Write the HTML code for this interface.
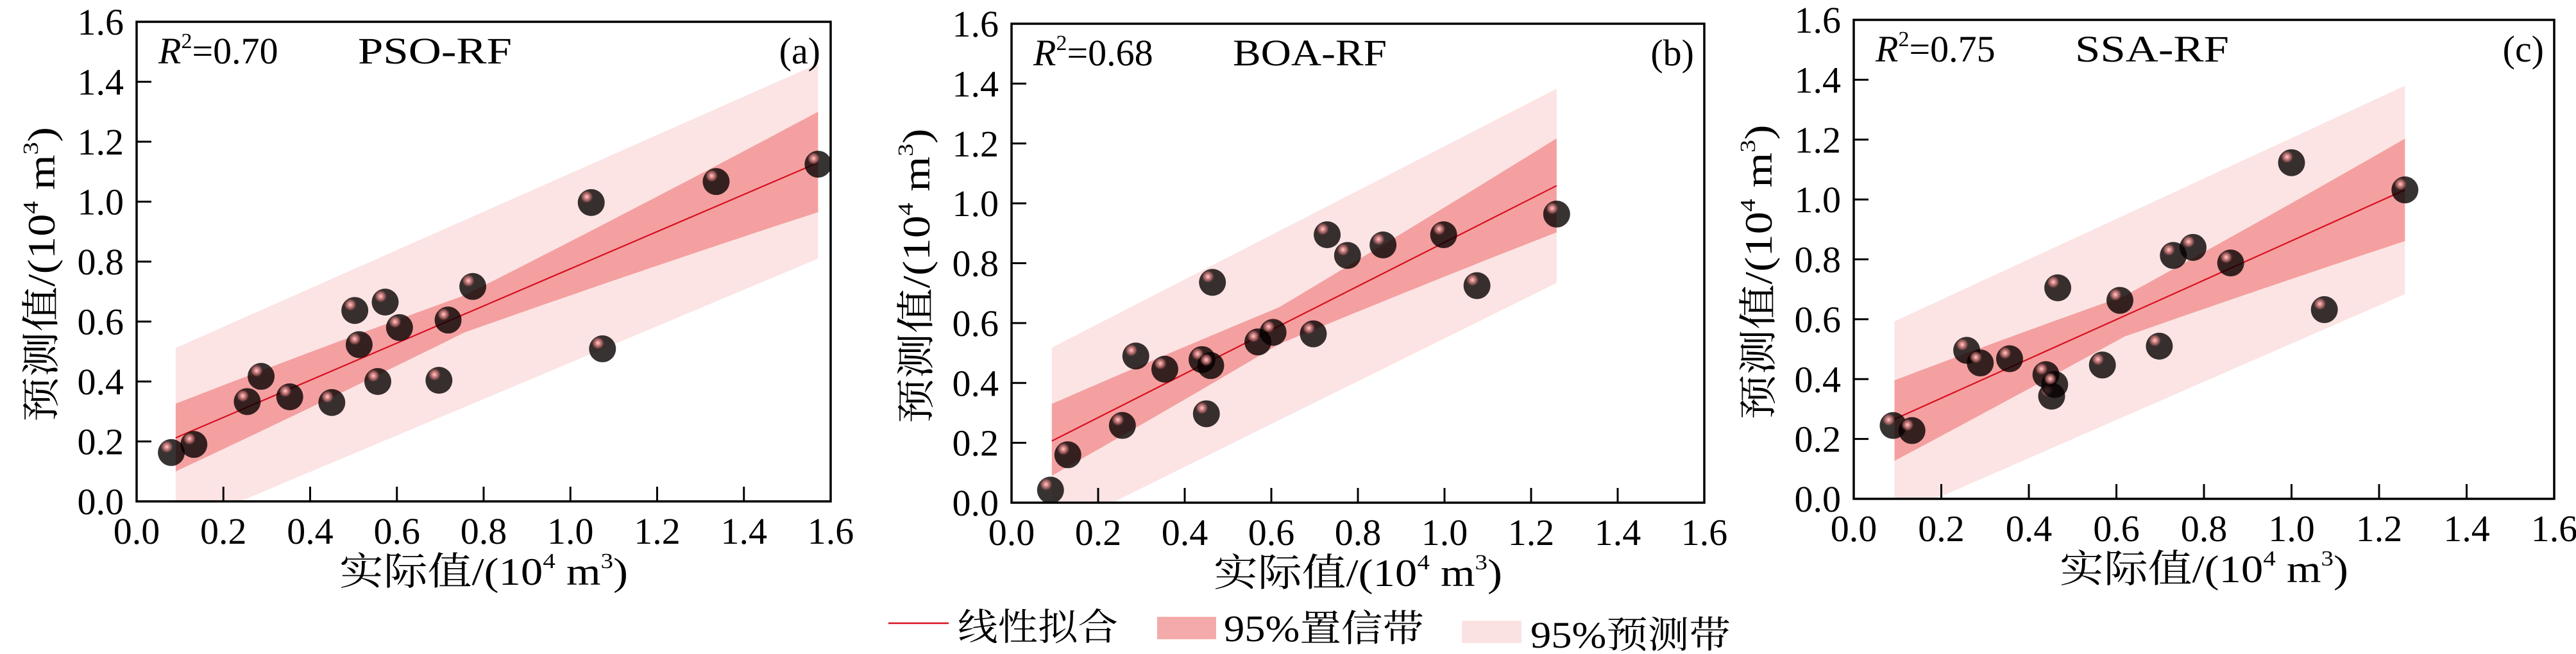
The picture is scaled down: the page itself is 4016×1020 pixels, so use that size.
<!DOCTYPE html>
<html><head><meta charset="utf-8"><style>
html,body{margin:0;padding:0;background:#fff;}
svg{display:block;}
text{font-family:"Liberation Serif","Noto Serif CJK SC","Noto Sans CJK SC",serif;fill:#000;}
</style></head><body>
<svg id="s" width="4016" height="1020" viewBox="0 0 4016 1020" xmlns="http://www.w3.org/2000/svg">
<defs>
<radialGradient id="hl" cx="0.5" cy="0.5" r="0.5">
<stop offset="0" stop-color="#ffd0d0" stop-opacity="1"/>
<stop offset="0.35" stop-color="#e89090" stop-opacity="0.9"/>
<stop offset="0.7" stop-color="#c07070" stop-opacity="0.6"/>
<stop offset="1" stop-color="#804040" stop-opacity="0"/>
</radialGradient>
</defs>
<g id="g"></g>
<line x1="1385" y1="972" x2="1479" y2="972" stroke="#d81020" stroke-width="2.5"/>
<text x="1493" y="998" font-size="58" textLength="250" lengthAdjust="spacingAndGlyphs">线性拟合</text>
<rect x="1804" y="962" width="92" height="35" fill="#f4aaaa"/>
<text x="1908" y="1000" font-size="58" textLength="312" lengthAdjust="spacingAndGlyphs">95%置信带</text>
<rect x="2279" y="968" width="93" height="35" fill="#fbe2e2"/>
<text x="2386" y="1010" font-size="58" textLength="312" lengthAdjust="spacingAndGlyphs">95%预测带</text>
</svg>
<script>
var NS="http://www.w3.org/2000/svg",G=document.getElementById('g');
function el(t,a,p){var e=document.createElementNS(NS,t);for(var k in a)e.setAttribute(k,a[k]);(p||G).appendChild(e);return e;}
var P=[
{L:213,R:1295,T:34,B:782,r2:"0.70",name:"PSO-RF",tag:"(a)",
 line:[0.09,0.212,1.571,1.13],conf:[0.326,0.10,1.30,0.965],pred:[0.512,-0.09,1.46,0.81],
 pts:[[0.08,0.163],[0.132,0.19],[0.255,0.333],[0.287,0.417],[0.353,0.349],[0.45,0.33],[0.503,0.637],[0.513,0.523],[0.556,0.40],[0.573,0.665],[0.606,0.58],[0.697,0.404],[0.718,0.605],[0.775,0.717],[1.048,0.997],[1.074,0.509],[1.336,1.067],[1.571,1.125]]},
{L:1577,R:2657,T:37,B:784,r2:"0.68",name:"BOA-RF",tag:"(b)",
 line:[0.093,0.206,1.259,1.059],conf:[0.33,0.09,1.217,0.903],pred:[0.518,-0.10,1.383,0.734],
 pts:[[0.09,0.042],[0.13,0.16],[0.256,0.258],[0.287,0.49],[0.354,0.446],[0.44,0.478],[0.46,0.458],[0.45,0.297],[0.464,0.736],[0.569,0.537],[0.604,0.569],[0.697,0.564],[0.729,0.895],[0.776,0.826],[0.858,0.861],[0.998,0.895],[1.075,0.725],[1.259,0.964]]},
{L:2890,R:3982,T:31,B:778,r2:"0.75",name:"SSA-RF",tag:"(c)",
 line:[0.093,0.266,1.259,1.032],conf:[0.396,0.127,1.203,0.861],pred:[0.593,-0.06,1.38,0.684],
 pts:[[0.09,0.245],[0.133,0.228],[0.258,0.496],[0.289,0.454],[0.356,0.468],[0.439,0.415],[0.452,0.343],[0.459,0.382],[0.466,0.705],[0.568,0.447],[0.608,0.663],[0.698,0.51],[0.73,0.813],[0.775,0.84],[0.861,0.788],[1.0,1.123],[1.075,0.632],[1.259,1.032]]}
];
P.forEach(function(p,i){
 var sx=(p.R-p.L)/1.6, sy=(p.B-p.T)/1.6;
 function X(v){return p.L+v*sx} function Y(v){return p.B-v*sy}
 var x0=p.line[0],y0=p.line[1],x1=p.line[2],y1=p.line[3],sl=(y1-y0)/(x1-x0);
 function fit(x){return y0+sl*(x-x0)}
 function band(b,curv){
  var wl0=b[0]-y0, wl1=y0-b[1], wr0=b[2]-y1, wr1=y1-b[3];
  var up=[],lo=[],N=40,xm=x0+(x1-x0)*0.45;
  for(var k=0;k<=N;k++){var x=x0+(x1-x0)*k/N,t=k/N;
   var du=wl0+(wr0-wl0)*t, dl=wl1+(wr1-wl1)*t;
   var s=Math.pow((x-xm)/(t<0.45?(xm-x0):(x1-xm)),2);
   var f=curv?(0.45+0.55*Math.sqrt(s)):1;
   up.push([x,fit(x)+du*f]);lo.push([x,Math.max(0,fit(x)-dl*f)]);}
  var pts=up.concat(lo.reverse()).map(function(q){return X(q[0]).toFixed(1)+","+Y(q[1]).toFixed(1)}).join(" ");
  return pts;}
 el('polygon',{points:band(p.pred,false),fill:'#fce4e4'});
 el('polygon',{points:band(p.conf,true),fill:'#f4a0a0'});
 el('line',{x1:X(x0),y1:Y(y0),x2:X(x1),y2:Y(y1),stroke:'#d81020','stroke-width':2.2});
 p.pts.forEach(function(q){var cx=X(q[0]),cy=Y(q[1]);
  el('circle',{cx:cx,cy:cy,r:21,fill:'#050000','fill-opacity':0.8});
  el('circle',{cx:cx-7,cy:cy-9,r:10,fill:'url(#hl)'});});
 // axes
 el('rect',{x:p.L,y:p.T,width:p.R-p.L,height:p.B-p.T,fill:'none',stroke:'#000','stroke-width':3.5});
 for(var k=0;k<=8;k++){var v=k*0.2;
  if(k>0&&k<8){el('line',{x1:X(v),y1:p.B,x2:X(v),y2:p.B-23,stroke:'#000','stroke-width':3});
   el('line',{x1:p.L,y1:Y(v),x2:p.L+23,y2:Y(v),stroke:'#000','stroke-width':3});}
  var t=el('text',{x:p.L-20,y:Y(v)+20,'font-size':58,'text-anchor':'end'});t.textContent=v.toFixed(1);
  var t2=el('text',{x:X(v),y:p.B+66,'font-size':58,'text-anchor':'middle'});t2.textContent=v.toFixed(1);
 }
 var r=el('text',{x:p.L+34,y:p.T+65,'font-size':58});
 r.innerHTML='<tspan font-style="italic">R</tspan><tspan font-size="34" dy="-24">2</tspan><tspan dy="24">='+p.r2+'</tspan>';
 var n=el('text',{x:p.L+345,y:p.T+65,'font-size':58,textLength:240,lengthAdjust:'spacingAndGlyphs'});n.textContent=p.name;
 var tg=el('text',{x:p.R-16,y:p.T+65,'font-size':58,'text-anchor':'end'});tg.textContent=p.tag;
 var cx=(p.L+p.R)/2;
 var xl=el('text',{x:cx-225,y:p.B+130,'font-size':60,textLength:450,lengthAdjust:'spacingAndGlyphs'});
 xl.innerHTML='实际值/(10<tspan font-size="34" dy="-26">4</tspan><tspan dy="26"> m</tspan><tspan font-size="34" dy="-26">3</tspan><tspan dy="26">)</tspan>';
 var cy=(p.T+p.B)/2+20;
 var yl=el('text',{x:0,y:0,'font-size':60,textLength:460,lengthAdjust:'spacingAndGlyphs',transform:'translate('+(p.L-128)+','+(cy+230)+') rotate(-90)'});
 yl.innerHTML='预测值/(10<tspan font-size="34" dy="-26">4</tspan><tspan dy="26"> m</tspan><tspan font-size="34" dy="-26">3</tspan><tspan dy="26">)</tspan>';
});
</script>
</body></html>
